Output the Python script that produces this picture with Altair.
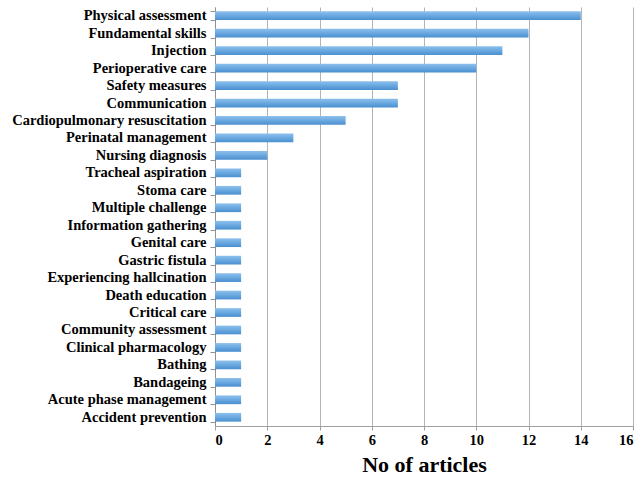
import altair as alt
import pandas as pd

categories = [
    "Physical assessment", "Fundamental skills", "Injection", "Perioperative care",
    "Safety measures", "Communication", "Cardiopulmonary resuscitation",
    "Perinatal management", "Nursing diagnosis", "Tracheal aspiration", "Stoma care",
    "Multiple challenge", "Information gathering", "Genital care", "Gastric fistula",
    "Experiencing hallcination", "Death education", "Critical care",
    "Community assessment", "Clinical pharmacology", "Bathing", "Bandageing",
    "Acute phase management", "Accident prevention",
]
values = [14, 12, 11, 10, 7, 7, 5, 3, 2, 1, 1, 1, 1, 1, 1, 1, 1, 1, 1, 1, 1, 1, 1, 1]

df = pd.DataFrame({"category": categories, "articles": values})

grad = alt.Gradient(
    gradient="linear",
    stops=[
        alt.GradientStop(color="#8cc0ec", offset=0),
        alt.GradientStop(color="#6aa8e0", offset=0.5),
        alt.GradientStop(color="#4a8fcf", offset=1),
    ],
    x1=0, x2=0, y1=0, y2=1,
)

chart = (
    alt.Chart(df)
    .mark_bar(color=grad)
    .encode(
        x=alt.X(
            "articles:Q",
            scale=alt.Scale(domain=[0, 16], nice=False),
            axis=alt.Axis(
                values=list(range(0, 17, 2)),
                title="No of articles",
                titleFont="Liberation Serif",
                titleFontSize=22,
                titleFontWeight="bold",
                titleColor="black",
                titlePadding=8,
                labelFont="Liberation Serif",
                labelFontSize=14.5,
                labelFontWeight="bold",
                labelColor="black",
                labelPadding=3,
                grid=True,
                gridColor="#b4b4b4",
                domainColor="#a0a0a0",
                tickColor="#a0a0a0",
                tickSize=4,
            ),
        ),
        y=alt.Y(
            "category:N",
            sort=categories,
            scale=alt.Scale(paddingInner=0.5, paddingOuter=0.25),
            axis=alt.Axis(
                title=None,
                labelFont="Liberation Serif",
                labelFontSize=14.5,
                labelFontWeight="bold",
                labelColor="black",
                labelPadding=4,
                domainColor="#909090",
                tickColor="#909090",
                tickSize=5,
                labelLimit=300,
                tickBand="extent",
            ),
        ),
    )
    .properties(
        width=418,
        height=419,
        autosize=alt.AutoSizeParams(type="none"),
        padding={"left": 215, "top": 7, "right": 8, "bottom": 52},
    )
    .configure_view(stroke=None)
)

chart.save("out.html", embed_options={"renderer": "svg", "actions": False})
